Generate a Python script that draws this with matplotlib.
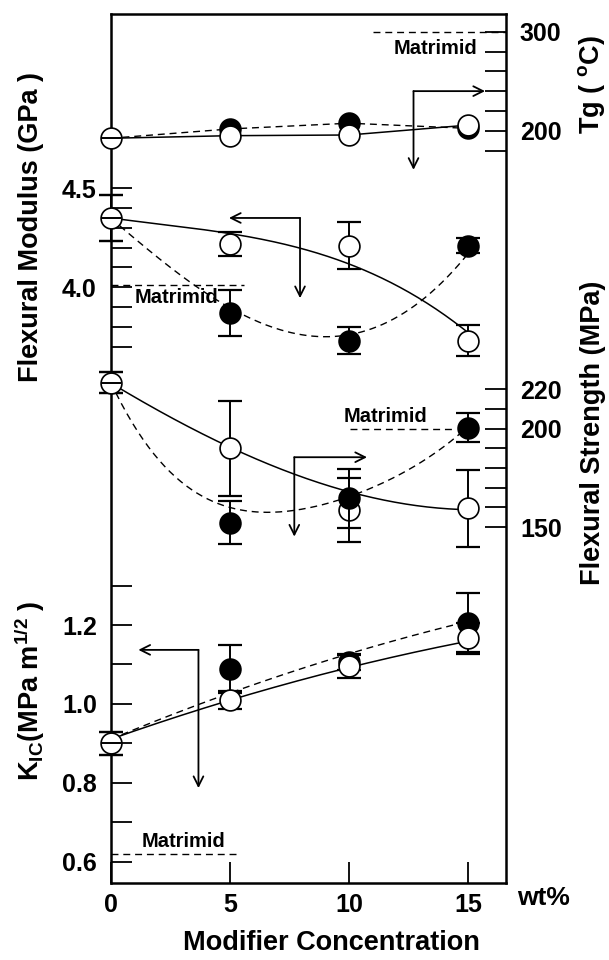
import numpy as np
import matplotlib.pyplot as plt

plt.rcParams['font.family'] = 'Liberation Sans'
plt.rcParams['font.weight'] = 'bold'
plt.rcParams['mathtext.fontset'] = 'custom'
plt.rcParams['mathtext.rm'] = 'Liberation Sans:bold'
plt.rcParams['mathtext.it'] = 'Liberation Sans:bold'
plt.rcParams['mathtext.bf'] = 'Liberation Sans:bold'

# modifier concentration (wt%)
conc = [0, 5, 10, 15]

# Tg (C)
tg_open = [192.4, 195.0, 195.7, 205.7]
tg_filled = [192.4, 201.8, 207.6, 202.4]

# flexural modulus (GPa)
mod_open = [4.35, 4.22, 4.21, 3.73]
mod_open_err = [0.117, 0.06, 0.118, 0.078]
mod_filled = [4.35, 3.87, 3.73, 4.21]
mod_filled_err = [0.117, 0.118, 0.069, 0.038]

# flexural strength (MPa)
fs_open = [223.4, 190.0, 158.7, 159.6]
fs_open_err = [5.5, 24.0, 16.2, 19.5]
fs_filled = [223.4, 152.3, 164.6, 200.5]
fs_filled_err = [5.5, 11.0, 15.0, 7.4]

# KIC (MPa m^1/2)
k_open = [0.90, 1.01, 1.095, 1.166]
k_open_err = [0.03, 0.022, 0.028, 0.04]
k_filled = [0.90, 1.089, 1.107, 1.206]
k_filled_err = [0.03, 0.06, 0.02, 0.075]

# trend curves
mod_curve_open_x = [0, 5, 9.2, 10, 13, 15]
mod_curve_open_y = [4.35, 4.27, 4.16, 4.11, 3.94, 3.77]
mod_curve_filled_x = [0, 0.67, 3.47, 6.26, 9.5, 12.84, 14.93]
mod_curve_filled_y = [4.35, 4.28, 4.01, 3.83, 3.745, 3.92, 4.16]
fs_curve_open_x = [0, 1.93, 5, 7.52, 10, 12.4, 14.5, 15]
fs_curve_open_y = [223, 210, 190.6, 177.5, 167.6, 162.3, 159, 158.7]
fs_curve_filled_x = [0, 0.25, 1.93, 3.33, 5, 6.83, 8.22, 10, 11.7, 13.1, 14.5, 15]
fs_curve_filled_y = [223, 218.8, 183.4, 170, 161.6, 157.4, 159.1, 164.6, 174.6, 183.9, 196.6, 200.5]
k_curve_open_y = [0.91, 1.012, 1.09, 1.16]
k_curve_filled_y = [0.91, 1.03, 1.125, 1.21]

# Matrimid reference values
tg_matrimid = 300
mod_matrimid = 4.01
fs_matrimid = 200
k_matrimid = 0.62

fig = plt.figure(figsize=(6.09, 9.6), dpi=100)
rect = [0.1818, 0.0799, 0.6491, 0.9055]
ax_k = fig.add_axes(rect)
ax_m = fig.add_axes(rect, sharex=ax_k)
ax_t = fig.add_axes(rect, sharex=ax_k)
ax_s = fig.add_axes(rect, sharex=ax_k)

for a in (ax_m, ax_t, ax_s):
    a.patch.set_visible(False)
    for sp in a.spines.values():
        sp.set_visible(False)
    a.tick_params(axis='x', which='both', bottom=False, labelbottom=False)

for sp in ax_k.spines.values():
    sp.set_linewidth(1.8)

ax_k.set_xlim(0, 16.58)
ax_k.set_xticks([0, 5, 10, 15])
ax_k.set_xticklabels(['0', '5', '10', '15'])
ax_k.tick_params(axis='x', direction='in', length=15, width=1.3, labelsize=18, pad=7)


def set_scale(a, lim, ticks, labels, side):
    a.set_ylim(*lim)
    a.set_yticks(ticks)
    a.set_yticklabels(labels)
    if side == 'right':
        a.yaxis.tick_right()
    else:
        a.yaxis.tick_left()
    a.tick_params(axis='y', direction='in', length=15, width=1.3, labelsize=18, pad=10)


set_scale(ax_k, (0.546, 2.747), [0.6, 0.7, 0.8, 0.9, 1.0, 1.1, 1.2, 1.3],
          ['0.6', '', '0.8', '', '1.0', '', '1.2', ''], 'left')
set_scale(ax_m, (0.990, 5.380), [3.7, 3.8, 3.9, 4.0, 4.1, 4.2, 4.3, 4.4, 4.5],
          ['', '', '', '4.0', '', '', '', '', '4.5'], 'left')
set_scale(ax_t, (-560.2, 317.9), [180, 200, 220, 240, 260, 280, 300],
          ['', '200', '', '', '', '', '300'], 'right')
set_scale(ax_s, (-30.8, 410.5), [150, 160, 170, 180, 190, 200, 210, 220],
          ['150', '', '', '', '', '200', '', '220'], 'right')

dash = (5, 3.5)


def points(a, y, err, filled, z):
    if err is not None:
        eb = a.errorbar(conc, y, yerr=err, fmt='none', ecolor='k', elinewidth=1.4,
                        capsize=8.3, capthick=1.6, zorder=z)
        for art in eb.get_children():
            art.set_clip_on(False)
    a.plot(conc[1:], y[1:], 'o', ms=15, mfc='k' if filled else 'w', mec='k',
           mew=1.2, zorder=z + 0.5, clip_on=False)


def start_marker(a, y0):
    a.plot(0, y0, 'o', ms=15, mfc='w', mec='k', mew=1.2, zorder=6, clip_on=False)
    a.plot(0, y0, '_', ms=15, mec='k', mew=1.4, zorder=6.5, clip_on=False)


def curve(a, xs, ys, deg, dashed):
    p = np.polyfit(xs, ys, deg)
    xx = np.linspace(xs[0], xs[-1], 200)
    if dashed:
        a.plot(xx, np.polyval(p, xx), color='k', lw=1.0, dashes=dash, zorder=2)
    else:
        a.plot(xx, np.polyval(p, xx), color='k', lw=1.1, zorder=2)


def bent_arrow(a, corner, h_end, v_end):
    style = dict(arrowstyle='->,head_length=0.5,head_width=0.25', lw=1.3, color='k',
                 shrinkA=0, shrinkB=0, mutation_scale=14)
    a.annotate('', xy=h_end, xytext=corner, arrowprops=style)
    a.annotate('', xy=v_end, xytext=corner, arrowprops=style)


# Tg panel
ax_t.plot(conc, tg_open, color='k', lw=1.1, zorder=2)
ax_t.plot(conc, tg_filled, color='k', lw=1.0, dashes=dash, zorder=2)
points(ax_t, tg_filled, None, True, 3)
points(ax_t, tg_open, None, False, 4)
start_marker(ax_t, tg_open[0])
ax_t.plot([11.0, 16.58], [tg_matrimid, tg_matrimid], color='k', lw=1.0, dashes=dash)
ax_t.text(15.37, 283, 'Matrimid', ha='right', va='center', fontsize=14.5)
bent_arrow(ax_t, (12.7, 240), (15.7, 240), (12.7, 160.5))

# modulus panel
curve(ax_m, mod_curve_open_x, mod_curve_open_y, 3, False)
curve(ax_m, mod_curve_filled_x, mod_curve_filled_y, 4, True)
points(ax_m, mod_open, mod_open_err, False, 3)
points(ax_m, mod_filled, mod_filled_err, True, 3)
start_marker(ax_m, mod_open[0])
ax_m.plot([0, 5.6], [mod_matrimid, mod_matrimid], color='k', lw=1.0, dashes=dash)
ax_m.text(1.0, 3.95, 'Matrimid', ha='left', va='center', fontsize=14.5)
bent_arrow(ax_m, (7.94, 4.35), (4.96, 4.35), (7.94, 3.945))

# strength panel
curve(ax_s, fs_curve_open_x, fs_curve_open_y, 3, False)
curve(ax_s, fs_curve_filled_x, fs_curve_filled_y, 4, True)
points(ax_s, fs_open, fs_open_err, False, 3)
points(ax_s, fs_filled, fs_filled_err, True, 4)
start_marker(ax_s, fs_open[0])
ax_s.plot([10.04, 14.5], [fs_matrimid, fs_matrimid], color='k', lw=1.0, dashes=dash)
ax_s.text(13.3, 206, 'Matrimid', ha='right', va='center', fontsize=14.5)
bent_arrow(ax_s, (7.7, 185.5), (10.75, 185.5), (7.7, 145.2))

# KIC panel
curve(ax_k, conc, k_curve_open_y, 2, False)
curve(ax_k, conc, k_curve_filled_y, 2, True)
points(ax_k, k_filled, k_filled_err, True, 3)
points(ax_k, k_open, k_open_err, False, 4)
start_marker(ax_k, k_open[0])
ax_k.plot([0, 5.42], [k_matrimid, k_matrimid], color='k', lw=1.0, dashes=dash)
ax_k.text(1.3, 0.651, 'Matrimid', ha='left', va='center', fontsize=14.5)
bent_arrow(ax_k, (3.68, 1.137), (1.16, 1.137), (3.68, 0.787))

# axis titles
fig.text(0.0509, 0.7635, 'Flexural Modulus (GPa )', rotation=90, ha='center', va='center', fontsize=19.5)
fig.text(0.049, 0.281, r'K$_{\rm IC}$(MPa m$^{1/2}$ )', rotation=90, ha='center', va='center', fontsize=19.5)
fig.text(0.972, 0.9115, r'Tg ( $^{\rm o}$C)', rotation=90, ha='center', va='center', fontsize=19.5)
fig.text(0.974, 0.549, 'Flexural Strength (MPa)', rotation=90, ha='center', va='center', fontsize=19.5)
fig.text(0.5435, 0.0177, 'Modifier Concentration', ha='center', va='center', fontsize=19.5)
fig.text(0.849, 0.0646, 'wt%', ha='left', va='center', fontsize=19)

fig.savefig('out.png', dpi=100)
